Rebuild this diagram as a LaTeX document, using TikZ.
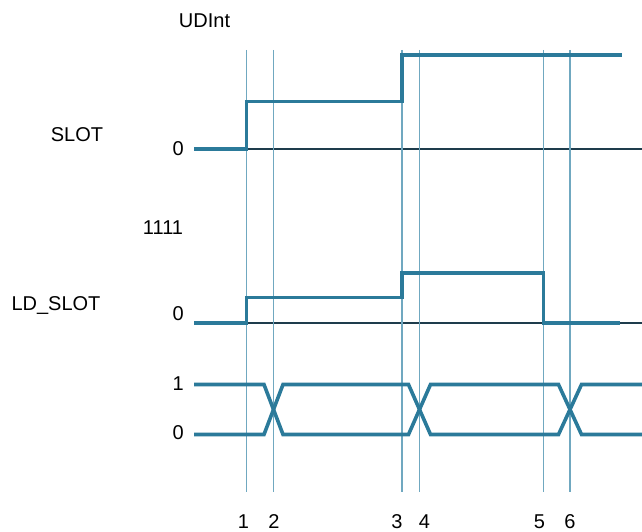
\documentclass[tikz,border=0pt]{standalone}
\usepackage{fontspec}
\setmainfont{Liberation Sans}
\definecolor{sig}{HTML}{2B7A9A}
\definecolor{mark}{HTML}{70A8C0}
\definecolor{base}{HTML}{1E3C4C}
\begin{document}
\begin{tikzpicture}[x=1pt,y=-1pt,
  sigline/.style={draw=sig,line width=3.6pt,line join=miter},
  markline/.style={draw=mark,line width=1.7pt},
  baseline/.style={draw=base,line width=1.3pt},
  lbl/.style={font=\fontsize{20}{24}\selectfont,inner sep=0pt,text=black}]
\useasboundingbox (0,0) rectangle (642,532);
% baselines
\draw[baseline] (246,149) -- (642,149);
\draw[baseline] (246,323) -- (642,323);
% marker lines
\foreach \n/\x in {1/246.5,2/273.5,3/402,4/419.5,5/543.5,6/570}{
  \coordinate (t\n) at (\x,50);
  \coordinate (b\n) at (\x,492);
  \draw[markline] (t\n) -- (b\n);
}
% SLOT signal
\draw[sigline] (194,149) -- (246.5,149) -- (246.5,101.5) -- (402,101.5) -- (402,55) -- (622,55);
% LD_SLOT signal
\draw[sigline] (194,323) -- (246.5,323) -- (246.5,297.5) -- (402,297.5) -- (402,273) -- (543.5,273) -- (543.5,323) -- (620,323);
% bus signal
\draw[sigline] (194,384.5) -- (264,384.5) -- (283,434.5) -- (408.5,434.5) -- (430.5,384.5) -- (558.5,384.5) -- (581.5,434.5) -- (642,434.5);
\draw[sigline] (194,434.5) -- (264,434.5) -- (283,384.5) -- (408.5,384.5) -- (430.5,434.5) -- (558.5,434.5) -- (581.5,384.5) -- (642,384.5);
% labels
\node[lbl] (udint) at (204.5,21) {UDInt};
\node[lbl] (slot) at (77,134.5) {SLOT};
\node[lbl,anchor=east] (slot0) at (184,148.5) {0};
\node[lbl] (v1111) at (163,228) {1111};
\node[lbl] (ldslot) at (56,305.5) {LD\_SLOT};
\node[lbl,anchor=east] (ld0) at (184,314) {0};
\node[lbl,anchor=east] (bus1) at (184,383.5) {1};
\node[lbl,anchor=east] (bus0) at (184,433) {0};
\foreach \n/\x in {1/243.5,2/274,3/397,4/424.5,5/539.5,6/570}{
  \node[lbl] (n\n) at (\x,521.5) {\n};
}
\end{tikzpicture}
\end{document}
